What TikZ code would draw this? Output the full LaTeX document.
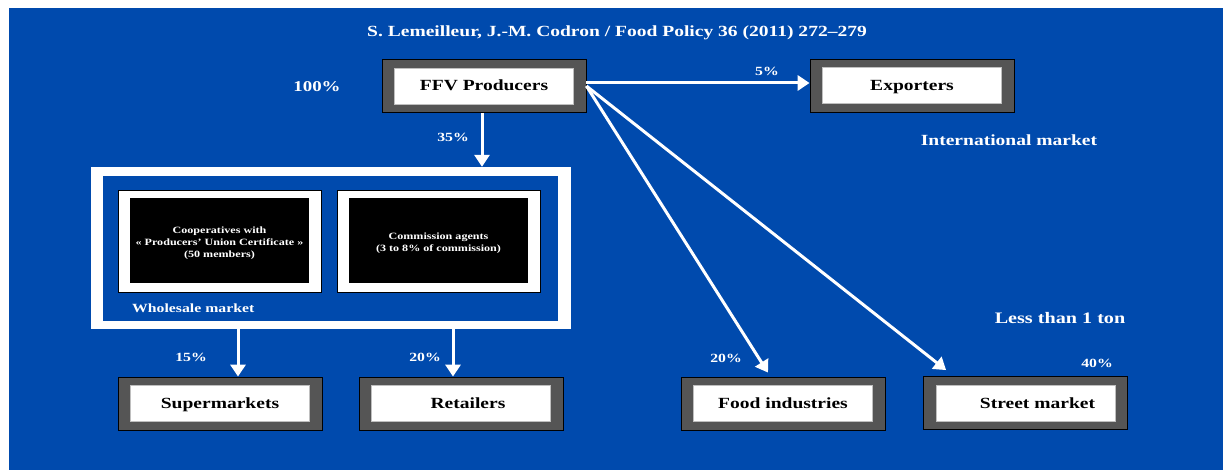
\documentclass[tikz,border=0pt]{standalone}
\usepackage{fontspec}
\setmainfont[FakeStretch=1.26]{Liberation Serif}
\usetikzlibrary{arrows.meta,positioning,shapes}
\definecolor{bgblue}{RGB}{0,74,173}
\definecolor{framegray}{RGB}{85,85,85}

\begin{document}
\begin{tikzpicture}[x=1pt,y=-1pt]
	\tikzstyle{frame} = [rectangle, draw=black, fill=framegray, line width=0.8pt, minimum width=204pt, minimum height=53pt, inner sep=0pt]
	\tikzstyle{block} = [rectangle, draw=black!25, fill=white, line width=0.6pt, minimum width=179pt, minimum height=36pt, inner sep=0pt, text height=12pt, text depth=2pt, font=\bfseries\fontsize{15.5}{18}\selectfont]
	\tikzstyle{inner} = [rectangle, fill=black, text=white, minimum width=179pt, minimum height=85pt, inner sep=0pt, align=center, font=\bfseries\fontsize{9.6}{12}\selectfont]
	\tikzstyle{entry} = [draw=none, text=white, inner sep=0pt, font=\bfseries\fontsize{12.5}{14}\selectfont]
	\tikzstyle{big} = [entry, font=\bfseries\fontsize{15.5}{17}\selectfont]
	\tikzstyle{arrow} = [draw=white, line width=3pt, -{Triangle[length=12pt,width=15pt]}]

	\fill[white] (0,0) rectangle (1223,470);
	\fill[bgblue] (9,8) rectangle (1223,470);
	\useasboundingbox (0,0) rectangle (1223,470);

	\node [big] (title) at (617,33) {S. Lemeilleur, J.-M. Codron / Food Policy 36 (2011) 272--279};

	% producers and exporters
	\node [frame] (ffvbox) at (484,86) {};
	\node [block] (ffv) at (ffvbox) {FFV Producers};
	\node [big, font=\bfseries\fontsize{15}{16}\selectfont] (total) at (317,87) {100\%};
	\node [frame] (expbox) at (912,85.5) {};
	\node [block] (exp) at (expbox) {Exporters};
	\node [entry] (pexp) at (767,71) {5\%};
	\node [big] (intl) at (1009,140) {International market};
	\node [entry] (pws) at (453,137) {35\%};

	% wholesale market
	\node [rectangle, fill=white, minimum width=480pt, minimum height=162pt, inner sep=0pt] (wsout) at (331,248) {};
	\node [rectangle, fill=bgblue, minimum width=455pt, minimum height=145pt, inner sep=0pt] (wsin) at (330.5,248.5) {};
	\node [rectangle, draw=black, fill=white, minimum width=203pt, minimum height=102pt] (coopbox) at (219.5,241) {};
	\node [inner] (coop) at (219.5,240.5) {};
	\node [inner, fill=none, minimum height=0pt] (cooptext) at (219.5,243.5) {Cooperatives with\\« Producers’ Union Certificate »\\(50 members)};
	\node [rectangle, draw=black, fill=white, minimum width=203pt, minimum height=102pt] (agentbox) at (438.5,241) {};
	\node [inner] (agent) at (438.5,240.5) {};
	\node [inner, fill=none, minimum height=0pt] (agenttext) at (438.5,243.5) {Commission agents\\(3 to 8\% of commission)};
	\node [entry, anchor=west, font=\bfseries\fontsize{12.5}{15}\selectfont] (wslabel) at (132,308) {Wholesale market};

	% final outlets
	\node [frame] (superbox) at (220,403.5) {};
	\node [block] (super) at (superbox) {Supermarkets};
	\node [frame] (retbox) at (461,403.5) {};
	\node [block] (ret) at (retbox) {\hspace*{14pt}Retailers};
	\node [frame] (foodbox) at (783,403.5) {};
	\node [block] (food) at (foodbox) {Food industries};
	\node [frame] (streetbox) at (1025.5,403) {};
	\node [block] (street) at (streetbox) {\hspace*{24pt}Street market};
	\node [entry] (psuper) at (191,357) {15\%};
	\node [entry] (pret) at (425,357) {20\%};
	\node [entry] (pfood) at (726,358) {20\%};
	\node [entry] (pstreet) at (1097,363) {40\%};
	\node [big, font=\bfseries\fontsize{16}{18}\selectfont] (small) at (1060,318) {Less than 1 ton};

	\path[arrow] ([yshift=3pt]ffvbox.east) -- ([yshift=2.5pt]expbox.west);
	\path[arrow] ([xshift=-2pt]ffvbox.south) -- ([xshift=-2pt]ffvbox.south |- wsout.north);
	\path[arrow] ([xshift=18pt]superbox.north |- wsout.south) -- ([xshift=18pt]superbox.north);
	\path[arrow] ([xshift=-8pt]retbox.north |- wsout.south) -- ([xshift=-8pt]retbox.north);
	\path[arrow] (ffvbox.east) -- ([xshift=-15pt,yshift=4pt]foodbox.north);
	\path[arrow] (ffvbox.east) -- ([xshift=23pt,yshift=6pt]streetbox.north west);
\end{tikzpicture}
\end{document}
